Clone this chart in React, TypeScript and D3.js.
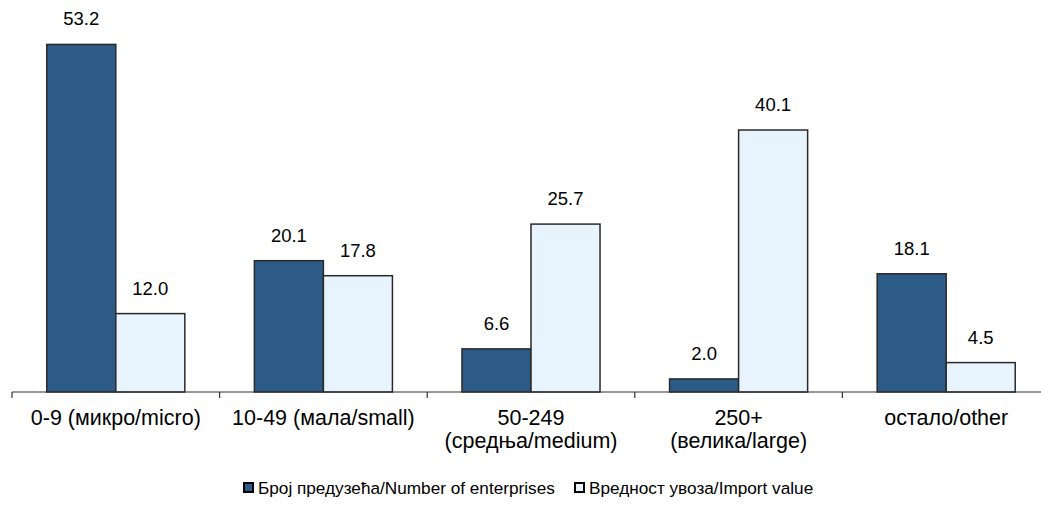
import React from "react";
import * as d3 from "d3";

const categories: string[][] = [
  ["0-9 (микро/micro)"],
  ["10-49 (мала/small)"],
  ["50-249", "(средња/medium)"],
  ["250+", "(велика/large)"],
  ["остало/other"],
];
const enterprises = [53.2, 20.1, 6.6, 2.0, 18.1];
const importValue = [12.0, 17.8, 25.7, 40.1, 4.5];
const seriesNames = ["Број предузећа/Number of enterprises", "Вредност увоза/Import value"];
const seriesColors = ["#2D5B88", "#E8F4FD"];

const W = 1041;
const H = 506;
const FONT = "'Liberation Sans', Arial, sans-serif";

export default function App() {
  const x = d3
    .scaleBand<number>()
    .domain(d3.range(categories.length))
    .range([12, 1050])
    .paddingInner(0.335)
    .paddingOuter(0.1675);
  const step = x.step();
  const xs = d3.scaleBand<number>().domain([0, 1]).range([0, x.bandwidth()]);
  const y = d3.scaleLinear().domain([0, 60]).range([392, 0]);
  const series = [enterprises, importValue];

  return (
    <svg width={W} height={H} style={{ position: "absolute", left: 0, top: 0, background: "#fff" }}>
      {series.map((vals, s) =>
        vals.map((v, i) => (
          <g key={`${s}-${i}`}>
            <rect
              x={(x(i) as number) + (xs(s) as number)}
              y={y(v)}
              width={xs.bandwidth()}
              height={y(0) - y(v)}
              fill={seriesColors[s]}
              stroke="#2a2a2a"
              strokeWidth={1.5}
            />
            <text
              x={(x(i) as number) + (xs(s) as number) + xs.bandwidth() / 2}
              y={y(v) - 19}
              textAnchor="middle"
              fontFamily={FONT}
              fontSize={18.5}
              fill="#000"
            >
              {v.toFixed(1)}
            </text>
          </g>
        ))
      )}
      <line x1={12} x2={W} y1={y(0)} y2={y(0)} stroke="#333" strokeWidth={1.2} />
      {d3.range(categories.length + 1).map((i) => {
        const tx = 12 + i * step;
        return <line key={i} x1={tx} x2={tx} y1={y(0)} y2={y(0) + 6} stroke="#333" strokeWidth={1.2} />;
      })}
      {categories.map((lines, i) => (
        <text
          key={i}
          x={(x(i) as number) + x.bandwidth() / 2}
          y={425}
          textAnchor="middle"
          fontFamily={FONT}
          fontSize={21.5}
          fill="#000"
        >
          {lines.map((l, j) => (
            <tspan key={j} x={(x(i) as number) + x.bandwidth() / 2} dy={j === 0 ? 0 : 23}>
              {l}
            </tspan>
          ))}
        </text>
      ))}
      {seriesNames.map((name, s) => {
        const lx = s === 0 ? 243 : 574;
        return (
          <g key={s}>
            <rect x={lx + 1} y={483} width={9} height={9} fill={seriesColors[s]} stroke="#000" strokeWidth={2} />
            <text x={lx + 15} y={494} fontFamily={FONT} fontSize={17.2} fill="#000">
              {name}
            </text>
          </g>
        );
      })}
    </svg>
  );
}
